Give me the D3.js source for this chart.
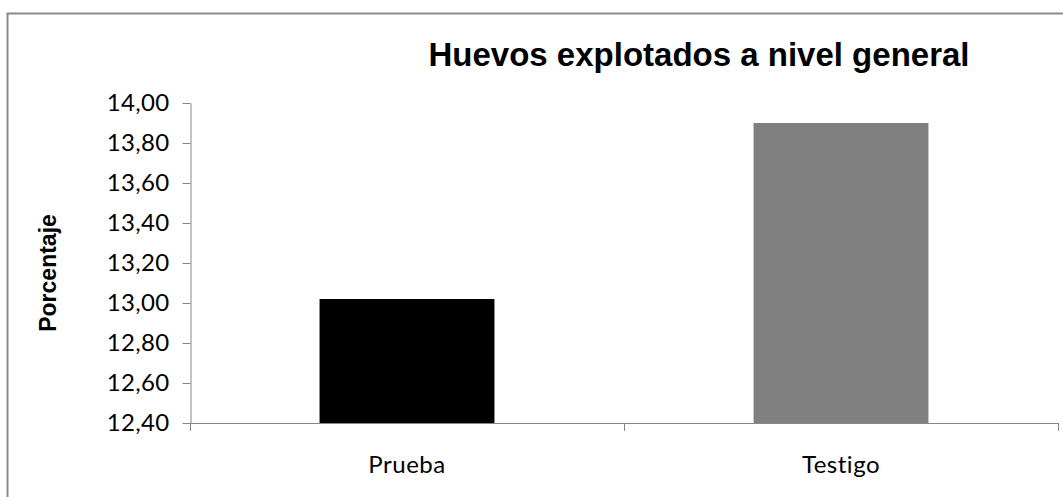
<!DOCTYPE html>
<html>
<head>
<meta charset="utf-8">
<script src="https://cdn.jsdelivr.net/npm/d3@7"></script>
<style>
  html, body { margin: 0; padding: 0; background: #fff; }
  svg { display: block; }
</style>
</head>
<body>
<div id="chart"></div>
<script>
// Chart data
const categories = ["Prueba", "Testigo"];
const values = [13.02, 13.90];
const barColors = ["#000000", "#808080"];
const yTicks = [12.40, 12.60, 12.80, 13.00, 13.20, 13.40, 13.60, 13.80, 14.00];
const titleText = "Huevos explotados a nivel general";
const yAxisTitle = "Porcentaje";

const W = 1063, H = 497;
const plot = { left: 190, right: 1058, top: 103, bottom: 423 };
const axisColor = "#868686";
const labelFont = "Lato, 'Open Sans', sans-serif";

const svg = d3.select("#chart").append("svg")
  .attr("width", W).attr("height", H);

// Outer chart frame (extends past the right and bottom edges)
svg.append("rect")
  .attr("x", 7.5).attr("y", 13.5)
  .attr("width", W + 20).attr("height", H + 20)
  .attr("fill", "#fff")
  .attr("stroke", "#8a8a8a").attr("stroke-width", 2);

const x = d3.scaleBand()
  .domain(categories)
  .range([plot.left, plot.right])
  .paddingInner(0.597)
  .paddingOuter(0.2985);

const y = d3.scaleLinear()
  .domain([12.4, 14.0])
  .range([plot.bottom, plot.top]);

// Bars
svg.append("g").selectAll("rect")
  .data(categories)
  .join("rect")
  .attr("x", d => x(d))
  .attr("width", x.bandwidth())
  .attr("y", (d, i) => y(values[i]))
  .attr("height", (d, i) => y(12.4) - y(values[i]))
  .attr("fill", (d, i) => barColors[i]);

const fmt = d => d.toFixed(2).replace(".", ",");

// Y axis
const yAxis = svg.append("g")
  .attr("transform", `translate(${plot.left + 0.5},0)`)
  .call(d3.axisLeft(y).tickValues(yTicks).tickFormat(fmt).tickSize(8).tickPadding(13).tickSizeOuter(0));
yAxis.select(".domain").attr("stroke", axisColor);
yAxis.selectAll(".tick line").attr("stroke", axisColor);
yAxis.selectAll(".tick text")
  .attr("fill", "#000")
  .style("font-family", labelFont)
  .style("font-size", "24px")
  .style("letter-spacing", "0.3px");

// X axis: tick marks sit on the category boundaries
const boundaries = [plot.left, plot.left + (plot.right - plot.left) / 2, plot.right];
const xAxisG = svg.append("g");
xAxisG.append("line")
  .attr("x1", plot.left).attr("x2", plot.right + 0.5)
  .attr("y1", plot.bottom + 0.5).attr("y2", plot.bottom + 0.5)
  .attr("stroke", axisColor);
xAxisG.selectAll("line.tk")
  .data(boundaries)
  .join("line")
  .attr("class", "tk")
  .attr("x1", d => Math.round(d) + 0.5).attr("x2", d => Math.round(d) + 0.5)
  .attr("y1", plot.bottom).attr("y2", plot.bottom + 8)
  .attr("stroke", axisColor);

xAxisG.selectAll("text")
  .data(categories)
  .join("text")
  .attr("x", d => x(d) + x.bandwidth() / 2)
  .attr("y", 473)
  .attr("text-anchor", "middle")
  .style("font-family", labelFont)
  .style("font-size", "24px")
  .style("letter-spacing", "0.5px")
  .attr("fill", "#000")
  .text(d => d);

// Title
svg.append("text")
  .attr("x", 699).attr("y", 66)
  .attr("text-anchor", "middle")
  .style("font-family", "'Liberation Sans', Arial, sans-serif")
  .style("font-weight", "bold")
  .style("font-size", "33px")
  .attr("fill", "#000")
  .text(titleText);

// Y axis title
svg.append("text")
  .attr("transform", "translate(56,273) rotate(-90)")
  .attr("text-anchor", "middle")
  .style("font-family", "'Liberation Sans', Arial, sans-serif")
  .style("font-weight", "bold")
  .style("font-size", "23px")
  .attr("fill", "#000")
  .text(yAxisTitle);
</script>
</body>
</html>
